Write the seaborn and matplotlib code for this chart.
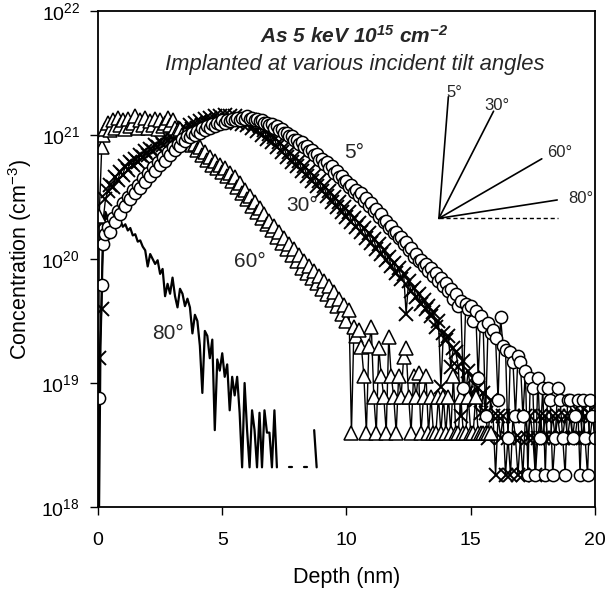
import numpy as np
import pandas as pd
import matplotlib
matplotlib.use("Agg")
import matplotlib.pyplot as plt
from matplotlib.ticker import NullLocator
import seaborn as sns

# ---------------- data ----------------
# depth sampling grid (nm): three near-surface points, then every 0.1 nm
DEPTH = [0.0, 0.05, 0.15] + [round(v, 2) for v in np.arange(0.2, 20.05, 0.1)]

# log10(concentration / cm^-3)
LOG_5 = [16.5, 18.88, 19.79,
         20.12, 20.20, 20.26, 20.22, 20.33, 20.30, 20.39, 20.36,
         20.45, 20.43, 20.50, 20.48, 20.56, 20.53, 20.60, 20.57, 20.65, 20.62,
         20.69, 20.67, 20.74, 20.71, 20.78, 20.76, 20.82, 20.79, 20.86, 20.84,
         20.90, 20.88, 20.93, 20.91, 20.97, 20.95, 20.99, 20.98, 21.02, 21.00,
         21.03, 21.02, 21.06, 21.04, 21.07, 21.06, 21.09, 21.07, 21.10, 21.09,
         21.12, 21.10, 21.12, 21.11, 21.13, 21.12, 21.14, 21.12, 21.14, 21.13,
         21.15, 21.13, 21.14, 21.12, 21.13, 21.11, 21.12, 21.10, 21.10, 21.08,
         21.09, 21.06, 21.07, 21.04, 21.05, 21.02, 21.02, 20.99, 20.99, 20.96,
         20.96, 20.93, 20.94, 20.90, 20.91, 20.87, 20.88, 20.84, 20.85, 20.80,
         20.81, 20.77, 20.78, 20.73, 20.75, 20.69, 20.71, 20.66, 20.67, 20.62,
         20.63, 20.58, 20.60, 20.54, 20.56, 20.51, 20.53, 20.47, 20.49, 20.43,
         20.45, 20.39, 20.40, 20.34, 20.36, 20.30, 20.31, 20.25, 20.27, 20.21,
         20.22, 20.17, 20.18, 20.12, 20.14, 20.07, 20.09, 20.02, 20.04, 19.98,
         19.99, 19.94, 19.96, 19.90, 19.93, 19.86, 19.89, 19.82, 19.85, 19.78,
         19.81, 19.74, 19.76, 19.68, 19.72, 19.62, 19.66, 18.96, 19.64, 19.60,
         19.62, 19.50, 19.58, 19.04, 19.54, 19.46, 18.73, 19.48, 19.40, 19.43,
         19.36, 18.86, 19.53, 19.30, 19.27, 18.56, 19.25, 19.17, 18.73, 19.22,
         19.17, 18.73, 19.10, 18.26, 19.04, 18.96, 18.26, 19.04, 18.56, 18.96,
         18.26, 18.96, 18.86, 18.26, 18.56, 18.96, 18.86, 18.56, 18.26, 18.86,
         18.86, 18.56, 18.73, 18.86, 18.26, 18.86, 18.56, 18.26, 18.86, 18.73,
         18.56]

LOG_30 = [16.5, 19.2, 19.6,
          20.30, 20.48, 20.55, 20.60, 20.58, 20.66, 20.64, 20.70,
          20.68, 20.75, 20.72, 20.78, 20.76, 20.81, 20.78, 20.84, 20.82, 20.87,
          20.84, 20.89, 20.87, 20.92, 20.90, 20.95, 20.92, 20.98, 20.95, 21.00,
          20.97, 21.02, 20.99, 21.04, 21.01, 21.06, 21.03, 21.08, 21.05, 21.10,
          21.06, 21.11, 21.08, 21.13, 21.09, 21.14, 21.10, 21.15, 21.11, 21.15,
          21.11, 21.16, 21.12, 21.15, 21.11, 21.15, 21.10, 21.14, 21.09, 21.13,
          21.08, 21.12, 21.06, 21.10, 21.03, 21.07, 21.00, 21.04, 20.97, 21.01,
          20.94, 20.98, 20.90, 20.94, 20.86, 20.90, 20.82, 20.86, 20.78, 20.82,
          20.75, 20.79, 20.71, 20.75, 20.67, 20.71, 20.63, 20.67, 20.59, 20.63,
          20.55, 20.59, 20.51, 20.55, 20.46, 20.50, 20.42, 20.46, 20.38, 20.42,
          20.34, 20.38, 20.30, 20.33, 20.26, 20.29, 20.22, 20.25, 20.17, 20.21,
          20.13, 20.16, 20.08, 20.12, 20.04, 20.07, 19.99, 20.02, 19.94, 19.97,
          19.89, 19.93, 19.84, 19.88, 19.56, 19.82, 19.74, 19.77, 19.69, 19.72,
          19.64, 19.67, 19.60, 19.62, 19.54, 19.57, 19.45, 19.50, 18.97, 19.40,
          19.35, 19.38, 19.13, 19.28, 19.25, 19.13, 18.73, 19.18, 18.92, 19.10,
          18.92, 19.04, 18.86, 18.96, 18.76, 18.92, 18.76, 18.56, 18.86, 18.73,
          18.26, 18.73, 18.56, 18.73, 18.26, 18.56, 18.26, 18.73, 18.56, 18.26,
          18.56, 18.26, 18.73, 18.56, 18.73, 18.56, 18.26, 18.56, 18.73, 18.56,
          18.73, 18.56, 18.56, 18.73, 18.56, 18.73, 18.56, 18.56, 18.73, 18.56,
          18.73, 18.56, 18.56, 18.73, 18.76, 18.56, 18.73, 18.76, 18.56, 18.73,
          18.56]

LOG_60 = [16.5, 20.35, 20.90,
          21.00, 21.05, 21.10, 21.04, 21.12, 21.06, 21.14, 21.08,
          21.12, 21.05, 21.13, 21.07, 21.10, 21.15, 21.06, 21.12, 21.08, 21.14,
          21.06, 21.11, 21.08, 21.13, 21.05, 21.12, 21.07, 21.10, 21.14, 21.08,
          21.12, 21.06, 21.04, 21.05, 21.00, 21.01, 20.95, 20.97, 20.92, 20.93,
          20.88, 20.90, 20.84, 20.86, 20.80, 20.82, 20.76, 20.79, 20.73, 20.76,
          20.70, 20.73, 20.67, 20.69, 20.63, 20.66, 20.58, 20.61, 20.53, 20.56,
          20.48, 20.51, 20.43, 20.46, 20.38, 20.41, 20.33, 20.36, 20.28, 20.31,
          20.23, 20.27, 20.18, 20.22, 20.13, 20.17, 20.08, 20.12, 20.03, 20.08,
          19.98, 20.03, 19.93, 19.98, 19.89, 19.94, 19.85, 19.90, 19.81, 19.86,
          19.76, 19.82, 19.72, 19.78, 19.67, 19.73, 19.62, 19.68, 19.56, 19.63,
          19.50, 19.59, 18.60, 19.45, 19.38, 19.43, 19.29, 19.06, 18.60, 19.30,
          19.45, 18.89, 18.60, 19.28, 19.06, 18.89, 18.60, 19.37, 19.06, 18.89,
          18.60, 19.06, 18.89, 19.21, 19.28, 18.89, 18.60, 19.06, 18.89, 19.08,
          18.60, 18.89, 19.06, 18.60, 18.89, 18.60, 18.60, 18.89, 18.60, 18.89,
          18.60, 18.89, 18.60, 19.06, 18.60, 18.60, 18.89, 18.60, 18.60, 18.89,
          18.60, 18.60, 18.89, 18.60, 18.60, 18.60, 18.60, 18.60, 18.60]

DEPTH_80 = [0.0, 0.1, 0.2, 0.3, 0.4, 0.5, 0.6, 0.7, 0.8, 0.9,
            1.0, 1.1, 1.2, 1.3, 1.4, 1.5, 1.6, 1.7, 1.8, 1.9,
            2.0, 2.1, 2.2, 2.3, 2.4, 2.5, 2.6, 2.7, 2.8, 2.9,
            3.0, 3.1, 3.2, 3.3, 3.4, 3.5, 3.6, 3.7, 3.8, 3.9,
            4.0, 4.1, 4.2, 4.3, 4.4, 4.5, 4.6, 4.7, 4.8, 4.9,
            5.0, 5.1, 5.2, 5.3, 5.4, 5.5, 5.6, 5.7, 5.8, 5.9,
            6.0, 6.1, 6.2, 6.3, 6.4, 6.5, 6.6, 6.7, 6.8, 6.9,
            7.0, 7.1, 7.2, 7.3, 7.4, 7.5, 7.6, 7.7, 7.8, 7.9,
            8.0, 8.1, 8.2, 8.3, 8.4, 8.5, 8.6, 8.7, 8.8]
NAN = float("nan")
LOG_80 = [17.0, 19.3, 20.15, 20.38, 20.33, 20.36, 20.32, 20.34, 20.30, 20.31,
          20.26, 20.28, 20.23, 20.25, 20.19, 20.20, 20.14, 20.15, 20.10, 20.07,
          19.94, 20.04, 20.00, 19.96, 19.99, 19.88, 19.92, 19.70, 19.80, 19.72,
          19.85, 19.70, 19.61, 19.76, 19.72, 19.62, 19.68, 19.61, 19.40, 19.55,
          19.50, 19.30, 18.92, 19.42, 19.38, 19.20, 19.35, 18.62, 19.19, 19.10,
          19.24, 19.05, 19.15, 18.78, 19.05, 18.90, 19.05, 18.76, 18.32, 19.00,
          18.62, 18.32, 18.78, 18.62, 18.32, 18.76, 18.32, 18.78, 18.60, 18.60,
          18.32, 18.78, 18.32, NAN, NAN, NAN, NAN, 18.32, 18.32, NAN,
          NAN, NAN, NAN, 18.32, 18.32, NAN, NAN, 18.62, 18.32]

CURVE_LABELS = ["5°", "30°", "60°", "80°"]
Y_TICKS = [1e18, 1e19, 1e20, 1e21, 1e22]
Y_TICK_LABELS = ["10$^{18}$", "10$^{19}$", "10$^{20}$", "10$^{21}$", "10$^{22}$"]
X_TICKS = [0, 5, 10, 15, 20]

# ---------------- style ----------------
sns.set_style("ticks")
plt.rcParams["font.family"] = ["Liberation Sans", "DejaVu Sans"]
plt.rcParams["mathtext.default"] = "regular"
plt.rcParams["axes.unicode_minus"] = False

fig = plt.figure(figsize=(6.06, 5.91), dpi=100)
ax = fig.add_axes([0.1617, 0.1421, 0.8201, 0.8393])
ax.set_yscale("log")


def frame(depth, logs):
    v = np.array(logs, dtype=float)
    seg, s, prev_nan = [], 0, True
    for x in v:
        if np.isnan(x):
            seg.append(-1)
            prev_nan = True
        else:
            if prev_nan:
                s += 1
            seg.append(s)
            prev_nan = False
    df = pd.DataFrame({"depth": depth[:len(v)], "conc": 10 ** v, "seg": seg})
    return df[df["seg"] >= 0]


df80 = frame(DEPTH_80, LOG_80)
df30 = frame(DEPTH, LOG_30)
df60 = frame(DEPTH, LOG_60)
df5 = frame(DEPTH, LOG_5)

sns.lineplot(data=df80, x="depth", y="conc", units="seg", estimator=None,
             sort=False, color="black", linewidth=1.6, ax=ax)
sns.lineplot(data=df30, x="depth", y="conc", estimator=None, sort=False,
             color="black", linewidth=1.0, marker="x", markersize=10.5,
             markeredgecolor="black", markeredgewidth=1.4, ax=ax)
sns.lineplot(data=df60, x="depth", y="conc", estimator=None, sort=False,
             color="black", linewidth=1.0, marker="^", markersize=9.5,
             markerfacecolor="white", markeredgecolor="black",
             markeredgewidth=1.1, ax=ax)
sns.lineplot(data=df5, x="depth", y="conc", estimator=None, sort=False,
             color="black", linewidth=1.0, marker="o", markersize=8.8,
             markerfacecolor="white", markeredgecolor="black",
             markeredgewidth=1.1, ax=ax)

ax.set_xlim(0, 20)
ax.set_ylim(1e18, 1e22)
ax.set_xticks(X_TICKS)
ax.set_xticklabels([str(t) for t in X_TICKS])
ax.set_yticks(Y_TICKS)
ax.set_yticklabels(Y_TICK_LABELS)
ax.yaxis.set_minor_locator(NullLocator())
ax.tick_params(axis="both", direction="out", length=6, width=1.0,
               color="black", labelsize=14, labelcolor="black")
ax.tick_params(axis="x", pad=12)
ax.tick_params(axis="y", pad=7)
for sp in ax.spines.values():
    sp.set_visible(True)
    sp.set_color("black")
    sp.set_linewidth(1.3)

ax.set_xlabel("Depth (nm)", fontsize=15.5, color="black", labelpad=13)
ax.set_ylabel("Concentration (cm$^{-3}$)", fontsize=15.5, color="black")
ax.yaxis.set_label_coords(-0.128, 0.5)

# titles
ax.text(0.515, 0.950, "As 5 keV 10$^{15}$ cm$^{-2}$", transform=ax.transAxes,
        ha="center", va="center", fontsize=15, fontweight="bold",
        fontstyle="italic")
ax.text(0.517, 0.893, "Implanted at various incident tilt angles",
        transform=ax.transAxes, ha="center", va="center", fontsize=15.8,
        fontstyle="italic")

# curve labels
ax.text(10.3, 10 ** 20.855, CURVE_LABELS[0], fontsize=15, ha="center", va="center")
ax.text(8.2, 10 ** 20.435, CURVE_LABELS[1], fontsize=15, ha="center", va="center")
ax.text(6.1, 10 ** 19.976, CURVE_LABELS[2], fontsize=15, ha="center", va="center")
ax.text(2.8, 10 ** 19.40, CURVE_LABELS[3], fontsize=15, ha="center", va="center")

# tilt-angle diagram
ox, oy = 0.686, 0.582
for (ex, ey) in [(0.705, 0.827), (0.796, 0.798), (0.893, 0.702), (0.924, 0.619)]:
    ax.plot([ox, ex], [oy, ey], transform=ax.transAxes, color="black", lw=1.2)
ax.plot([ox, 0.926], [oy, oy], transform=ax.transAxes, color="black", lw=1.0,
        ls=(0, (3, 2)))
for (tx, ty), lab in zip([(0.717, 0.835), (0.803, 0.810), (0.930, 0.715), (0.972, 0.621)],
                         CURVE_LABELS):
    ax.text(tx, ty, lab, transform=ax.transAxes, fontsize=12, ha="center",
            va="center")

fig.savefig("out.png", dpi=100)
